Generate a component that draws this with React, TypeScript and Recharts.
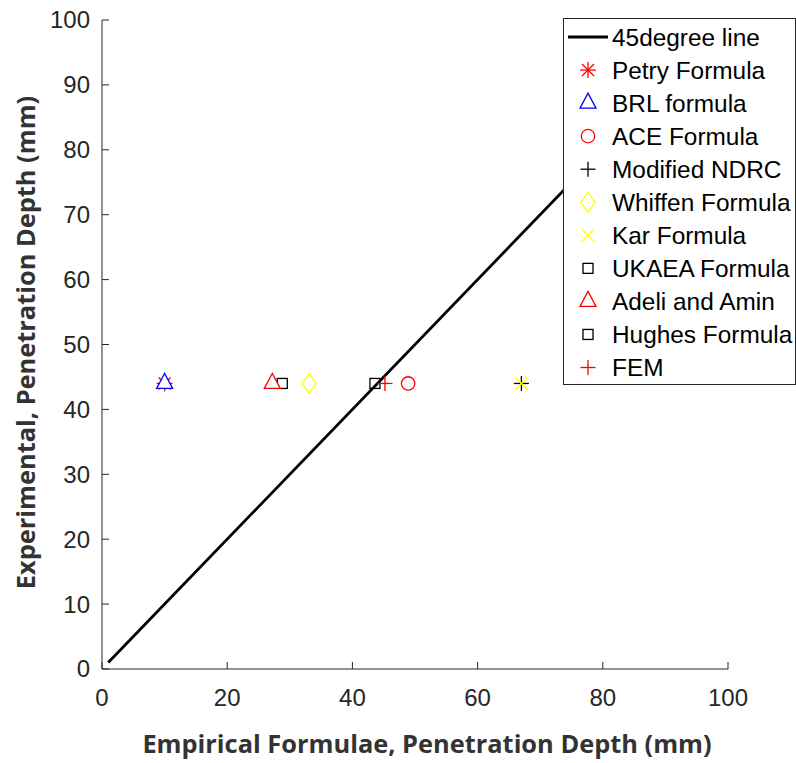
import { ScatterChart, Scatter, XAxis, YAxis, Legend } from 'recharts';

// penetration depth comparison: empirical formulae vs experiment (mm)
const AXIS = '#262626';
const TICK_FONT = '"Liberation Sans", Arial, sans-serif';
const LABEL_FONT = '"Open Sans", sans-serif';

const xTicks = [0, 20, 40, 60, 80, 100];
const yTicks = [0, 10, 20, 30, 40, 50, 60, 70, 80, 90, 100];

const lineName = '45degree line';
const lineX = [1, 100];
const lineY = [1, 100];

const seriesNames = [
    'Petry Formula',
    'BRL formula',
    'ACE Formula',
    'Modified NDRC',
    'Whiffen Formula',
    'Kar Formula',
    'UKAEA Formula',
    'Adeli and Amin',
    'Hughes Formula',
    'FEM',
];
const empiricalDepth = [10, 10, 48.9, 67, 33.1, 67, 28.8, 27.2, 43.6, 45.2];
const experimentalDepth = [44, 44, 44, 44, 44, 44, 44, 44, 44, 44];
const markerKinds = ['asterisk', 'triangle', 'circle', 'plus', 'diamond', 'cross', 'square', 'triangle', 'square', 'plus'];
const markerColors = ['#ff0000', '#0000ff', '#ff0000', '#000000', '#ffff00', '#ffff00', '#000000', '#ff0000', '#000000', '#ff0000'];

const diagonal = lineX.map((x, i) => ({ x, y: lineY[i] }));

function Marker({ kind, color, cx, cy }: { kind: string; color: string; cx: number; cy: number }) {
    const p = { stroke: color, strokeWidth: 1.3, fill: 'none' };
    switch (kind) {
        case 'asterisk':
            return (
                <g {...p}>
                    <line x1={cx - 8} x2={cx + 8} y1={cy} y2={cy} />
                    <line x1={cx} x2={cx} y1={cy - 8} y2={cy + 8} />
                    <line x1={cx - 6} x2={cx + 6} y1={cy - 6} y2={cy + 6} />
                    <line x1={cx - 6} x2={cx + 6} y1={cy + 6} y2={cy - 6} />
                </g>
            );
        case 'triangle':
            // triangles hide what sits beneath them (the Petry star under BRL)
            return <polygon {...p} fill="#fff" points={`${cx},${cy - 10} ${cx - 8},${cy + 5} ${cx + 8},${cy + 5}`} />;
        case 'circle':
            return <circle {...p} cx={cx} cy={cy} r={6.7} />;
        case 'plus':
            return (
                <g {...p}>
                    <line x1={cx - 7.5} x2={cx + 7.5} y1={cy} y2={cy} />
                    <line x1={cx} x2={cx} y1={cy - 7.5} y2={cy + 7.5} />
                </g>
            );
        case 'diamond':
            return <polygon {...p} points={`${cx},${cy - 10} ${cx + 7},${cy} ${cx},${cy + 10} ${cx - 7},${cy}`} />;
        case 'cross':
            return (
                <g {...p}>
                    <line x1={cx - 6} x2={cx + 6} y1={cy - 6} y2={cy + 6} />
                    <line x1={cx - 6} x2={cx + 6} y1={cy + 6} y2={cy - 6} />
                </g>
            );
        default:
            return <rect {...p} x={cx - 5} y={cy - 5} width={10} height={10} />;
    }
}

const BottomTick = (t: any) => (
    <g>
        <line x1={t.x} x2={t.x} y1={t.y} y2={t.y - 7} stroke={AXIS} />
        <text x={t.x} y={t.y + 37} textAnchor="middle" fill={AXIS} fontSize={24} fontFamily={TICK_FONT}>
            {t.payload.value}
        </text>
    </g>
);
const LeftTick = (t: any) => (
    <g>
        <line x1={t.x} x2={t.x + 7} y1={t.y} y2={t.y} stroke={AXIS} />
        <text x={t.x - 12} y={t.y} dy="0.35em" textAnchor="end" fill={AXIS} fontSize={24} fontFamily={TICK_FONT}>
            {t.payload.value}
        </text>
    </g>
);
const TopTick = (t: any) => <line x1={t.x} x2={t.x} y1={t.y} y2={t.y + 7} stroke={AXIS} />;
const RightTick = (t: any) => <line x1={t.x} x2={t.x - 7} y1={t.y} y2={t.y} stroke={AXIS} />;

const ROW = 33.05;
function LegendBox() {
    return (
        <svg width={233} height={368} style={{ display: 'block' }}>
            <rect x={0.5} y={0.5} width={232} height={366} fill="#fff" stroke={AXIS} />
            <line x1={5} x2={45} y1={19} y2={19} stroke="#000" strokeWidth={2.8} />
            <text x={49} y={19} dy="0.35em" fontSize={24.4} fontFamily={TICK_FONT} fill="#000">
                {lineName}
            </text>
            {seriesNames.map((name, i) => {
                const y = 19 + ROW * (i + 1);
                return (
                    <g key={name}>
                        <Marker kind={markerKinds[i]} color={markerColors[i]} cx={25} cy={y} />
                        <text x={49} y={y} dy="0.35em" fontSize={24.4} fontFamily={TICK_FONT} fill="#000">
                            {name}
                        </text>
                    </g>
                );
            })}
        </svg>
    );
}

export default function App() {
    return (
        <div style={{ position: 'absolute', left: 0, top: 0, background: '#fff' }}>
            <ScatterChart width={796} height={763} margin={{ top: 20, right: 68, bottom: 0, left: 0 }}>
                <XAxis
                    type="number"
                    dataKey="x"
                    domain={[0, 100]}
                    ticks={xTicks}
                    allowDataOverflow
                    height={94}
                    tickSize={0}
                    tickMargin={0}
                    tickLine={false}
                    axisLine={{ stroke: AXIS }}
                    tick={BottomTick}
                    label={(l: any) => (
                        <text
                            x={l.viewBox.x + l.viewBox.width / 2 + 12}
                            y={l.viewBox.y + 84}
                            textAnchor="middle"
                            fontSize={25.4}
                            fontWeight="bold"
                            fontFamily={LABEL_FONT}
                            fill="#333"
                        >
                            Empirical Formulae, Penetration Depth (mm)
                        </text>
                    )}
                />
                <XAxis
                    xAxisId="top"
                    orientation="top"
                    type="number"
                    domain={[0, 100]}
                    ticks={xTicks}
                    allowDataOverflow
                    height={0}
                    tickSize={0}
                    tickMargin={0}
                    tickLine={false}
                    axisLine={{ stroke: AXIS }}
                    tick={TopTick}
                />
                <YAxis
                    type="number"
                    dataKey="y"
                    domain={[0, 100]}
                    ticks={yTicks}
                    allowDataOverflow
                    width={102}
                    tickSize={0}
                    tickMargin={0}
                    tickLine={false}
                    axisLine={{ stroke: AXIS }}
                    tick={LeftTick}
                    label={(l: any) => (
                        <text
                            x={35}
                            y={l.viewBox.y + l.viewBox.height / 2 - 2}
                            transform={`rotate(-90, 35, ${l.viewBox.y + l.viewBox.height / 2 - 2})`}
                            textAnchor="middle"
                            fontSize={25.4}
                            fontWeight="bold"
                            fontFamily={LABEL_FONT}
                            fill="#333"
                        >
                            Experimental, Penetration Depth (mm)
                        </text>
                    )}
                />
                <YAxis
                    yAxisId="right"
                    orientation="right"
                    type="number"
                    domain={[0, 100]}
                    ticks={yTicks}
                    allowDataOverflow
                    width={0}
                    tickSize={0}
                    tickMargin={0}
                    tickLine={false}
                    axisLine={{ stroke: AXIS }}
                    tick={RightTick}
                />
                <Scatter
                    name={lineName}
                    data={diagonal}
                    line={{ stroke: '#000', strokeWidth: 2.8 }}
                    lineType="joint"
                    shape={() => <g />}
                    isAnimationActive={false}
                />
                {seriesNames.map((name, i) => (
                    <Scatter
                        key={name}
                        name={name}
                        data={[{ x: empiricalDepth[i], y: experimentalDepth[i] }]}
                        fill={markerColors[i]}
                        shape={(s: any) => <Marker kind={markerKinds[i]} color={markerColors[i]} cx={s.cx} cy={s.cy} />}
                        isAnimationActive={false}
                    />
                ))}
                <Legend
                    layout="vertical"
                    align="center"
                    verticalAlign="middle"
                    wrapperStyle={{ left: 563, top: 18, width: 233, height: 368 }}
                    content={() => <LegendBox />}
                />
            </ScatterChart>
        </div>
    );
}
